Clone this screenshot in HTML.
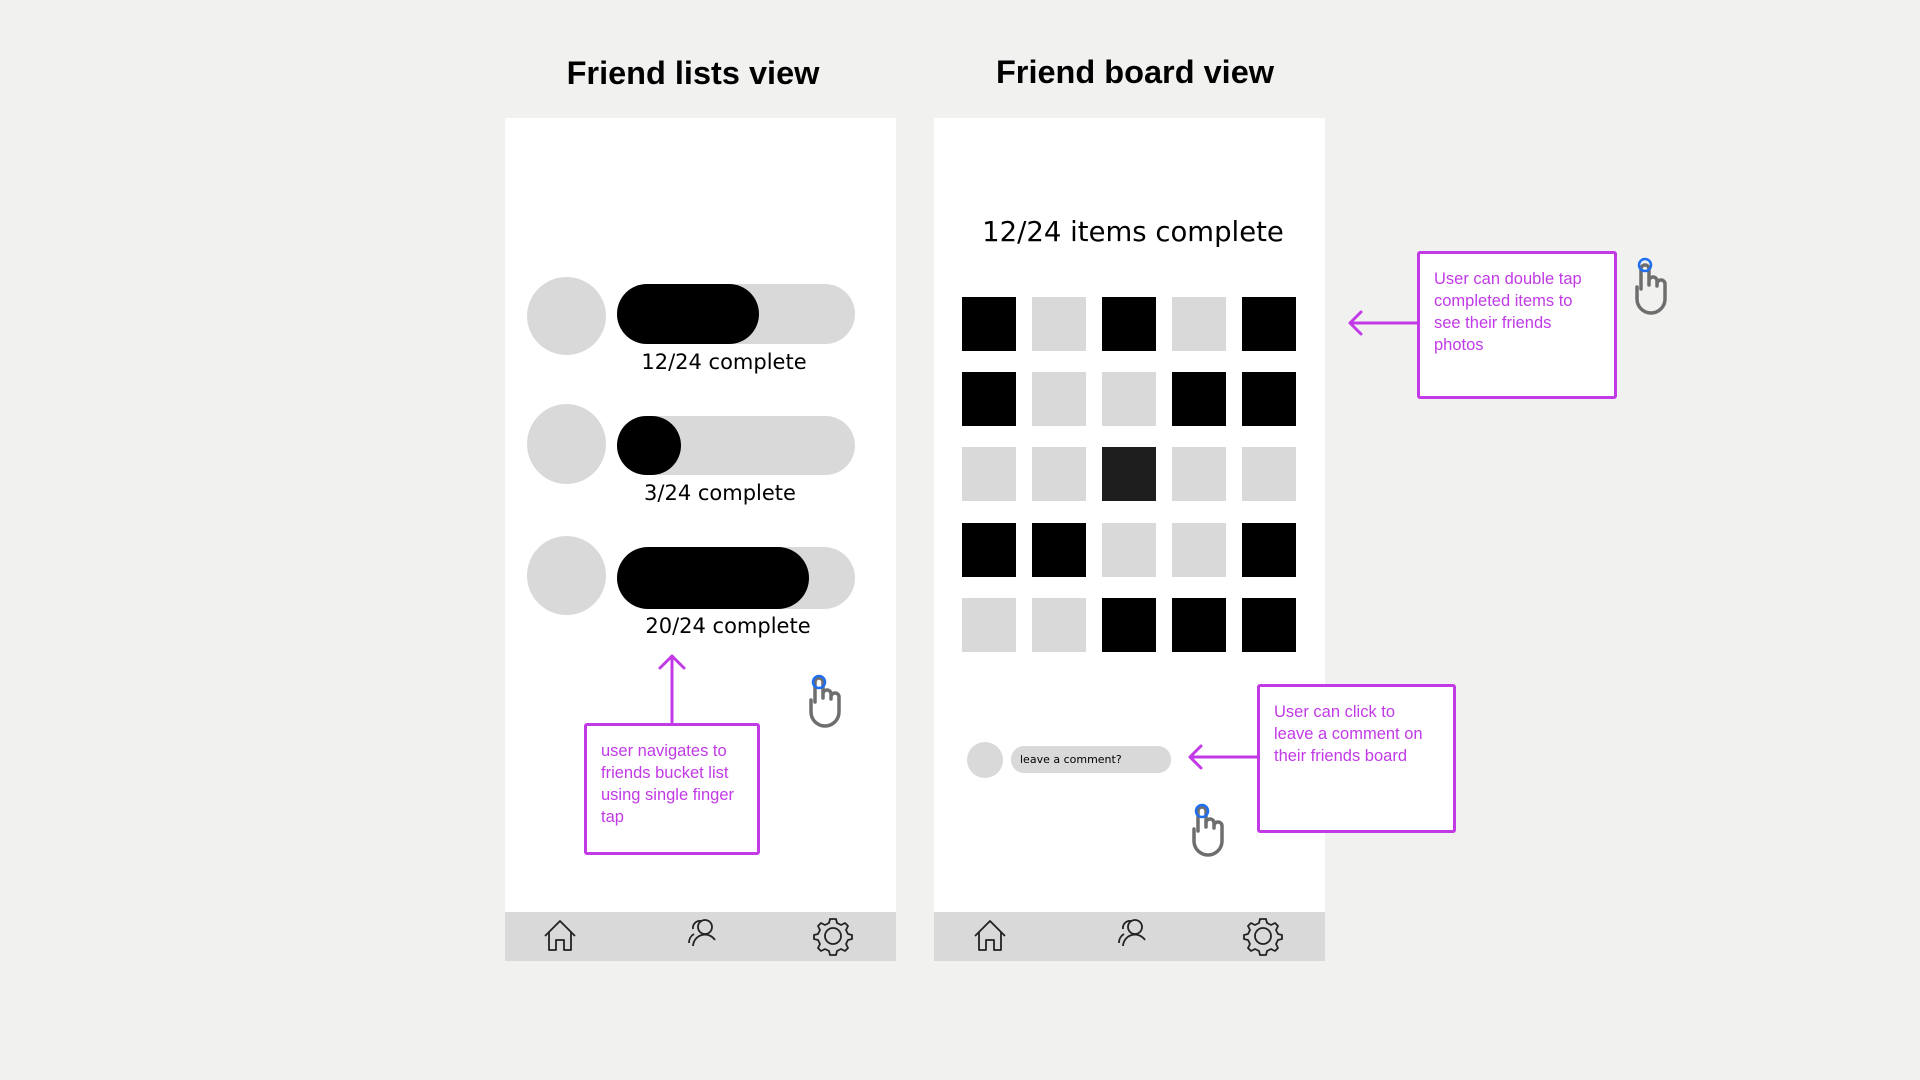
<!DOCTYPE html>
<html><head><meta charset="utf-8"><style>
body{margin:0;width:1920px;height:1080px;background:#f1f2f0;position:relative;overflow:hidden;font-family:"Liberation Sans",sans-serif}
.a{position:absolute}
.title{font-weight:bold;font-size:32.5px;color:#000;text-align:center;width:500px}
.phone{background:#fff;top:118px;width:391px;height:843px}
.nav{background:#d9d9d9;left:0;bottom:0;width:391px;height:49px}
.gry{background:#d9d9d9}
.hand{font-family:"DejaVu Sans",sans-serif;color:#000}
.lbl{font-family:"DejaVu Sans",sans-serif;font-size:21px;text-align:center;width:300px;white-space:nowrap}
.box{border:3px solid #c13ae6;border-radius:3px;background:#fff;box-sizing:border-box;color:#c13ae6;font-size:16.5px;line-height:22px;padding:22px 14px}
</style></head><body>
<div class="a title" style="left:443px;top:55px">Friend lists view</div>
<div class="a title" style="left:885px;top:54px">Friend board view</div>

<div class="a phone" style="left:505px">
 <div class="a nav"></div>
</div>
<div class="a phone" style="left:934px">
 <div class="a nav"></div>
</div>

<div class="a gry" style="left:527px;top:277px;width:79px;height:78px;border-radius:50%"></div>
<div class="a gry" style="left:617px;top:284px;width:238px;height:60px;border-radius:30px"></div>
<div class="a" style="left:617px;top:284px;width:142px;height:60px;border-radius:30px;background:#000"></div>
<div class="a lbl hand" style="left:574px;top:350px">12/24 complete</div>

<div class="a gry" style="left:527px;top:404px;width:79px;height:80px;border-radius:50%"></div>
<div class="a gry" style="left:617px;top:416px;width:238px;height:59px;border-radius:30px"></div>
<div class="a" style="left:617px;top:416px;width:64px;height:59px;border-radius:30px;background:#000"></div>
<div class="a lbl hand" style="left:570px;top:481px">3/24 complete</div>

<div class="a gry" style="left:527px;top:536px;width:79px;height:79px;border-radius:50%"></div>
<div class="a gry" style="left:617px;top:547px;width:238px;height:62px;border-radius:31px"></div>
<div class="a" style="left:617px;top:547px;width:192px;height:62px;border-radius:31px;background:#000"></div>
<div class="a lbl hand" style="left:578px;top:614px">20/24 complete</div>

<div class="a box" style="left:584px;top:723px;width:176px;height:132px;padding:14px 14px">user navigates to friends bucket list using single finger tap</div>

<div class="a lbl hand" style="left:933px;top:216px;font-size:27.5px;width:400px">12/24 items complete</div>

<div class="a" style="left:962px;top:297px">
<svg width="345" height="360">
<g>
<rect x="0" y="0" width="54" height="54" fill="#000"/><rect x="70" y="0" width="54" height="54" fill="#d9d9d9"/><rect x="140" y="0" width="54" height="54" fill="#000"/><rect x="210" y="0" width="54" height="54" fill="#d9d9d9"/><rect x="280" y="0" width="54" height="54" fill="#000"/>
<rect x="0" y="75" width="54" height="54" fill="#000"/><rect x="70" y="75" width="54" height="54" fill="#d9d9d9"/><rect x="140" y="75" width="54" height="54" fill="#d9d9d9"/><rect x="210" y="75" width="54" height="54" fill="#000"/><rect x="280" y="75" width="54" height="54" fill="#000"/>
<rect x="0" y="150" width="54" height="54" fill="#d9d9d9"/><rect x="70" y="150" width="54" height="54" fill="#d9d9d9"/><rect x="140" y="150" width="54" height="54" fill="#1e1e1e"/><rect x="210" y="150" width="54" height="54" fill="#d9d9d9"/><rect x="280" y="150" width="54" height="54" fill="#d9d9d9"/>
<rect x="0" y="226" width="54" height="54" fill="#000"/><rect x="70" y="226" width="54" height="54" fill="#000"/><rect x="140" y="226" width="54" height="54" fill="#d9d9d9"/><rect x="210" y="226" width="54" height="54" fill="#d9d9d9"/><rect x="280" y="226" width="54" height="54" fill="#000"/>
<rect x="0" y="301" width="54" height="54" fill="#d9d9d9"/><rect x="70" y="301" width="54" height="54" fill="#d9d9d9"/><rect x="140" y="301" width="54" height="54" fill="#000"/><rect x="210" y="301" width="54" height="54" fill="#000"/><rect x="280" y="301" width="54" height="54" fill="#000"/>
</g></svg></div>

<div class="a gry" style="left:967px;top:742px;width:36px;height:36px;border-radius:50%"></div>
<div class="a gry" style="left:1011px;top:746px;width:160px;height:27px;border-radius:13px"></div>
<div class="a hand" style="left:1020px;top:753px;font-size:11px">leave a comment?</div>

<div class="a box" style="left:1257px;top:684px;width:199px;height:149px;padding:14px 14px">User can click to leave a comment on their friends board</div>
<div class="a box" style="left:1417px;top:251px;width:200px;height:148px;padding:14px 14px">User can double tap completed items to see their friends photos</div>

<svg class="a" style="left:0;top:0" width="1920" height="1080">
<g stroke="#c13ae6" stroke-width="3" fill="none" stroke-linecap="round" stroke-linejoin="round">
<path d="M672 722 V656 M660 668 L672 656 L684 668"/>
<path d="M1257 757 H1190 M1201 746 L1190 757 L1201 768"/>
<path d="M1417 323 H1350 M1361 312 L1350 323 L1361 334"/>
</g>
<g id="h" fill="none" stroke="#6e6e6e" stroke-width="3.5" stroke-linecap="round" stroke-linejoin="round">
<path d="M815 702 V682 a4 4 0 0 1 8 0 V698 M823 694 a4 4 0 0 1 8 0 V699 M831 697 a4 4 0 0 1 8 0 V712 a14 14 0 0 1 -28 0 V700"/>
</g>
<circle cx="819" cy="682" r="6" fill="none" stroke="#1f6ef0" stroke-width="2.5"/>
<g transform="translate(383 129)"><use href="#h"/></g>
<circle cx="1202" cy="811" r="6" fill="none" stroke="#1f6ef0" stroke-width="2.5"/>
<g transform="translate(826 -413)"><use href="#h"/></g>
<circle cx="1645" cy="265" r="6" fill="none" stroke="#1f6ef0" stroke-width="2.5"/>
<g id="nav" fill="none" stroke="#222" stroke-width="1.8" stroke-linejoin="round">
<path d="M545 936 L560 921 L575 936 M549 932 V950 H556 V940 H564 V950 H571 V932"/>
<circle cx="705" cy="927" r="7"/><path d="M693 946 a12 12 0 0 1 22 -6 M701 921 a7 7 0 0 0 -8 8 M689 943 a10 10 0 0 1 5 -9"/>
<circle cx="833" cy="936" r="8"/>
<path d="M833 919 l3 0 1 4 4 2 4 -2 3 3 -2 4 2 4 4 1 0 4 -4 1 -2 4 2 4 -3 3 -4 -2 -4 2 -1 4 -6 0 -1 -4 -4 -2 -4 2 -3 -3 2 -4 -2 -4 -4 -1 0 -4 4 -1 2 -4 -2 -4 3 -3 4 2 4 -2 1 -4z"/>
</g>
<g transform="translate(430 0)"><use href="#nav"/></g>
</svg>
</body></html>
